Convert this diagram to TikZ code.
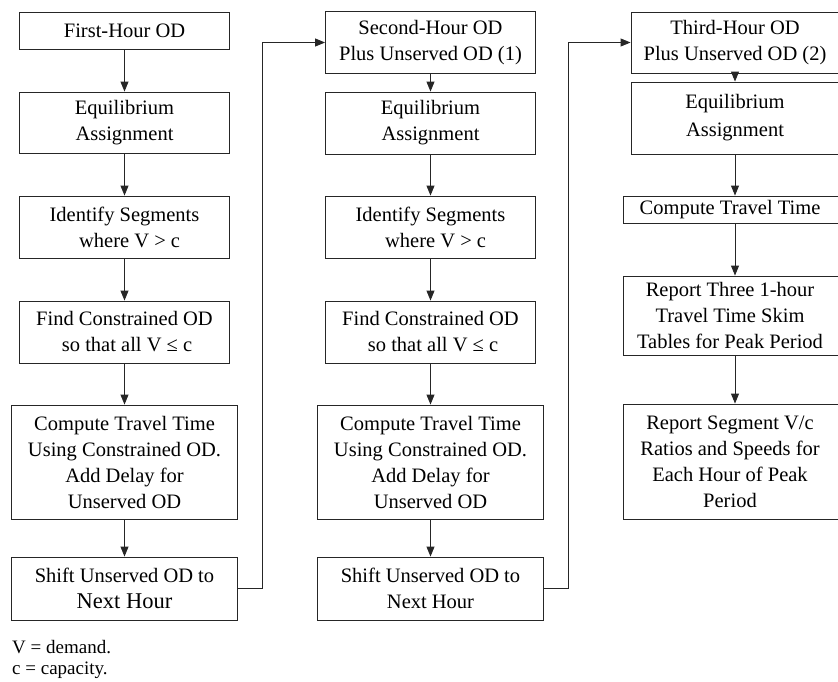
\documentclass[tikz,border=0pt]{standalone}
\usepackage{fontspec}
\setmainfont{Liberation Serif}
\usetikzlibrary{
    arrows.meta,
    positioning,
    calc
}
\tikzset{%
    >={Triangle[width=8pt,length=10pt]},
    % Specifications for style of nodes:
    base/.style = {
        rectangle, draw=black!85, line width=0.9pt,
        inner sep=0pt, text centered, align=center,
        font=\fontsize{20.5}{26}\selectfont
    },
    wide/.style = {base, minimum width=210pt},
    wider/.style = {base, minimum width=226pt},
    last/.style = {base, minimum width=224pt},
    flow/.style = {->, draw=black!85, line width=0.9pt},
    footnote/.style = {anchor=west, inner sep=0pt, font=\fontsize{19}{24}\selectfont}
}

\begin{document}
\begin{tikzpicture}[x=1pt,y=-1pt]
    \useasboundingbox (0,0) rectangle (838,681);
    % first hour
    \node[wide, minimum height=37pt] (od1) at (124.5,30.5) {First-Hour OD};
    \node[wide, minimum height=61pt] (equi1) at (124.5,122.5) {Equilibrium\\Assignment};
    \node[wide, minimum height=62pt] (ident1) at (124.5,227) {Identify Segments\\\ \ where V > c};
    \node[wide, minimum height=62pt] (find1) at (124.5,332) {Find Constrained OD\\\ so that all V ≤ c};
    \node[wider, minimum height=114pt] (comp1) at (124.5,462) {Compute Travel Time\\Using Constrained OD.\\Add Delay for\\Unserved OD};
    \node[wider, minimum height=63pt] (shift1) at (124.5,588.5) {Shift Unserved OD to\\{\fontsize{22.5}{26}\selectfont Next Hour}};
    % second hour
    \node[wide, minimum height=62pt] (od2) at (430.5,42.5) {Second-Hour OD\hspace{1.5em}\\Plus Unserved OD (1)};
    \node[wide, minimum height=62pt] (equi2) at (430.5,123) {Equilibrium\\Assignment};
    \node[wide, minimum height=62pt] (ident2) at (430.5,227) {Identify Segments\\\ \ where V > c};
    \node[wide, minimum height=62pt] (find2) at (430.5,332) {Find Constrained OD\\\ so that all V ≤ c};
    \node[wider, minimum height=114pt] (comp2) at (430.5,462) {Compute Travel Time\\Using Constrained OD.\\Add Delay for\\Unserved OD};
    \node[wider, minimum height=63pt] (shift2) at (430.5,588.5) {Shift Unserved OD to\\Next Hour};
    % third hour
    \node[base, minimum width=208pt, minimum height=61pt] (od3) at (735,42.5) {Third-Hour OD\\Plus Unserved OD (2)};
    \node[base, minimum width=208pt, minimum height=72pt] (equi3) at (735,118) {Equilibrium\\[2pt]Assignment};
    \node[last, minimum height=27pt] (comp3) at (735,209.5) {\hspace{-10pt}Compute Travel Time};
    \node[last, minimum height=79pt] (skim) at (735,315.5) {\hspace{-10pt}Report Three 1-hour\\\hspace{-10pt}Travel Time Skim\\\hspace{-10pt}Tables for Peak Period};
    \node[last, minimum height=115pt] (ratio) at (735,461.5) {\hspace{-10pt}Report Segment V/c\\\hspace{-10pt}Ratios and Speeds for\\\hspace{-10pt}Each Hour of Peak\\\hspace{-10pt}Period};

    \foreach \a/\b in {od1/equi1, equi1/ident1, ident1/find1, find1/comp1, comp1/shift1,
                       od2/equi2, equi2/ident2, ident2/find2, find2/comp2, comp2/shift2,
                       od3/equi3, equi3/comp3, comp3/skim, skim/ratio}
        \draw[flow] (\a.south) -- (\b.north);

    % carry unserved OD to next hour
    \draw[flow] (shift1.east) -- ++(24,0) |- (od2.west);
    \draw[flow] (shift2.east) -- ++(24,0) |- (od3.west);

    \node[footnote] (vnote) at (12,647) {V = demand.};
    \node[footnote] (cnote) at (12,670) {c = capacity.};
\end{tikzpicture}
\end{document}
